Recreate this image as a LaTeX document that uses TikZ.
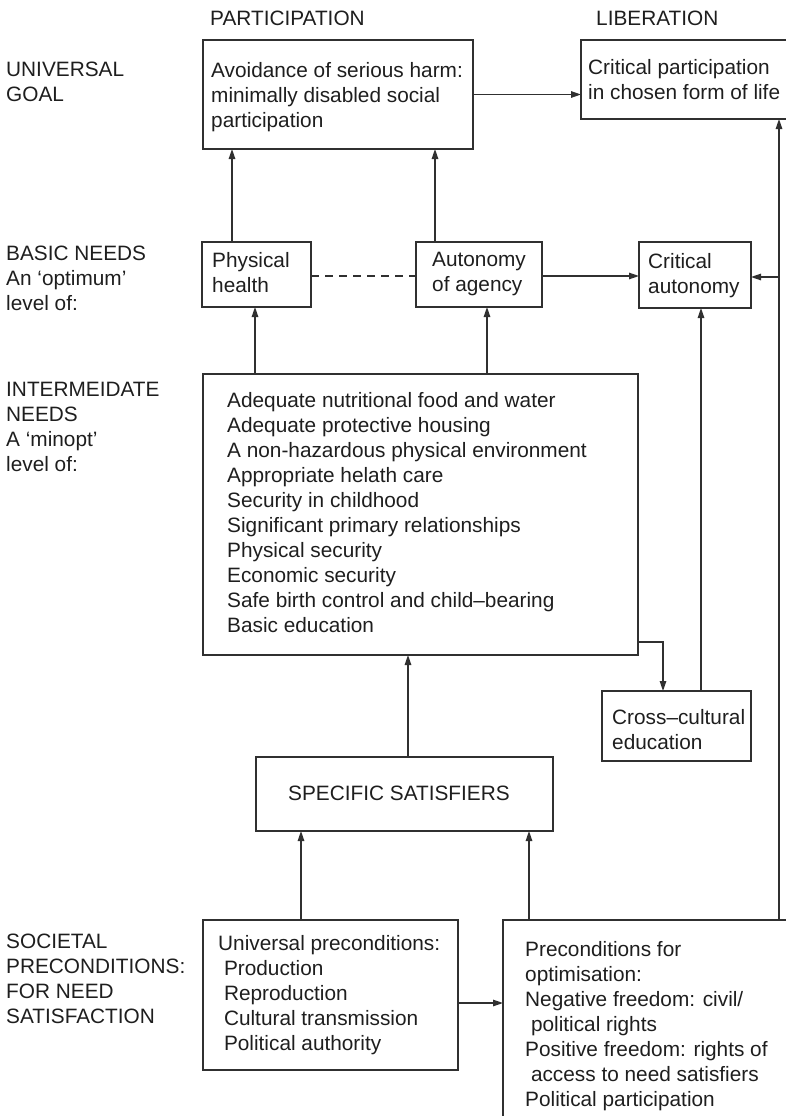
\documentclass[tikz,border=0pt]{standalone}
\usepackage{fontspec}
\setmainfont{Liberation Sans}
\usetikzlibrary{arrows.meta}
\definecolor{ln}{HTML}{303030}
\definecolor{tx}{HTML}{1E1E1E}
\newcommand{\fsz}{\fontsize{20.8}{25}\selectfont}
\newcommand{\st}{\rule{0pt}{16pt}}
\newcommand{\ind}{\hspace*{0.28em}}
\begin{document}
\begin{tikzpicture}[x=1pt,y=-1pt,
  box/.style={draw=ln, line width=1.4pt, inner sep=0pt, outer sep=0pt, anchor=north west},
  txt/.style={inner sep=0pt, anchor=north west, align=left, font=\fsz, text=tx, execute at begin node=\st},
  arr/.style={draw=ln, line width=1.3pt, -{Triangle[length=10pt,width=6.5pt]}},
  con/.style={draw=ln, line width=1.3pt}]
\useasboundingbox (0,0) rectangle (785,1116);
% boxes
\node[box, minimum width=270pt, minimum height=109pt] (avoid) at (203,40) {};
\node[box, minimum width=240pt, minimum height=79pt] (lib) at (581,40) {};
\node[box, minimum width=109pt, minimum height=65pt] (phys) at (202,242) {};
\node[box, minimum width=126pt, minimum height=65pt] (auton) at (416,242) {};
\node[box, minimum width=112pt, minimum height=66pt] (crit) at (639,242) {};
\node[box, minimum width=435pt, minimum height=281pt] (inter) at (203,374) {};
\node[box, minimum width=149pt, minimum height=70pt] (cross) at (602,691) {};
\node[box, minimum width=297pt, minimum height=74pt] (sat) at (256,757) {};
\node[box, minimum width=255pt, minimum height=150pt] (univ) at (203,920) {};
\node[box, minimum width=320pt, minimum height=250pt] (opt) at (503,920) {};
% texts
\node[txt] (tPart) at (210,9) {PARTICIPATION};
\node[txt] (tLib) at (596,9) {LIBERATION};
\node[txt] (lUG) at (6,62) {UNIVERSAL\\GOAL};
\node[txt] (tAvoid) at (211,62) {Avoidance of serious harm:\\minimally disabled social\\participation};
\node[txt] (tLibx) at (588,59) {Critical participation\\in chosen form of life};
\node[txt] (lBN) at (6,246) {BASIC NEEDS\\An ‘optimum’\\level of:};
\node[txt] (tPhys) at (212,252) {Physical\\health};
\node[txt] (tAut) at (432,252) {Autonomy\\of agency};
\node[txt] (tCrit) at (648,253) {Critical\\autonomy};
\node[txt] (lIN) at (6,382) {INTERMEIDATE\\NEEDS\\A ‘minopt’\\level of:};
\node[txt] (tInter) at (227,392) {Adequate nutritional food and water\\Adequate protective housing\\A non-hazardous physical environment\\Appropriate helath care\\Security in childhood\\Significant primary relationships\\Physical security\\Economic security\\Safe birth control and child–bearing\\Basic education};
\node[txt] (tCross) at (612,709) {Cross–cultural\\education};
\node[txt] (tSat) at (288,784) {SPECIFIC SATISFIERS};
\node[txt] (lSoc) at (6,934) {SOCIETAL\\PRECONDITIONS:\\FOR NEED\\SATISFACTION};
\node[txt] (tUniv) at (218,935) {Universal preconditions:\\\ind Production\\\ind Reproduction\\\ind Cultural transmission\\\ind Political authority};
\node[txt] (tOpt) at (525,941) {Preconditions for\\optimisation:\\Negative freedom: civil/\\\ind political rights\\Positive freedom: rights of\\\ind access to need satisfiers\\Political participation};
% connectors
\draw[arr] (phys.north -| 232,0) -- (avoid.south -| 232,0);
\draw[arr] (auton.north -| 435,0) -- (avoid.south -| 435,0);
\draw[arr] (avoid.east) -- (avoid.east -| lib.west);
\coordinate (dl) at (0,276);
\draw[con, dash pattern=on 8pt off 6pt] (phys.east |- dl) -- (auton.west |- dl);
\draw[arr] (auton.east |- dl) -- (crit.west |- dl);
\draw[arr] (inter.north -| 255,0) -- (phys.south -| 255,0);
\draw[arr] (inter.north -| 487,0) -- (auton.south -| 487,0);
\coordinate (k) at (663,642);
\draw[arr] (inter.east |- k) -- (k) -- (k |- cross.north);
\draw[arr] (cross.north -| 701,0) -- (crit.south -| 701,0);
\draw[arr] (sat.north -| 408,0) -- (inter.south -| 408,0);
\draw[arr] (univ.north -| 301,0) -- (sat.south -| 301,0);
\draw[arr] (opt.north -| 529,0) -- (sat.south -| 529,0);
\coordinate (m) at (0,1003);
\draw[arr] (univ.east |- m) -- (opt.west |- m);
\draw[arr] (opt.north -| 779,0) -- (lib.south -| 779,0);
\coordinate (rr) at (0,277);
\draw[arr] (779,0 |- rr) -- (crit.east |- rr);
\end{tikzpicture}
\end{document}
